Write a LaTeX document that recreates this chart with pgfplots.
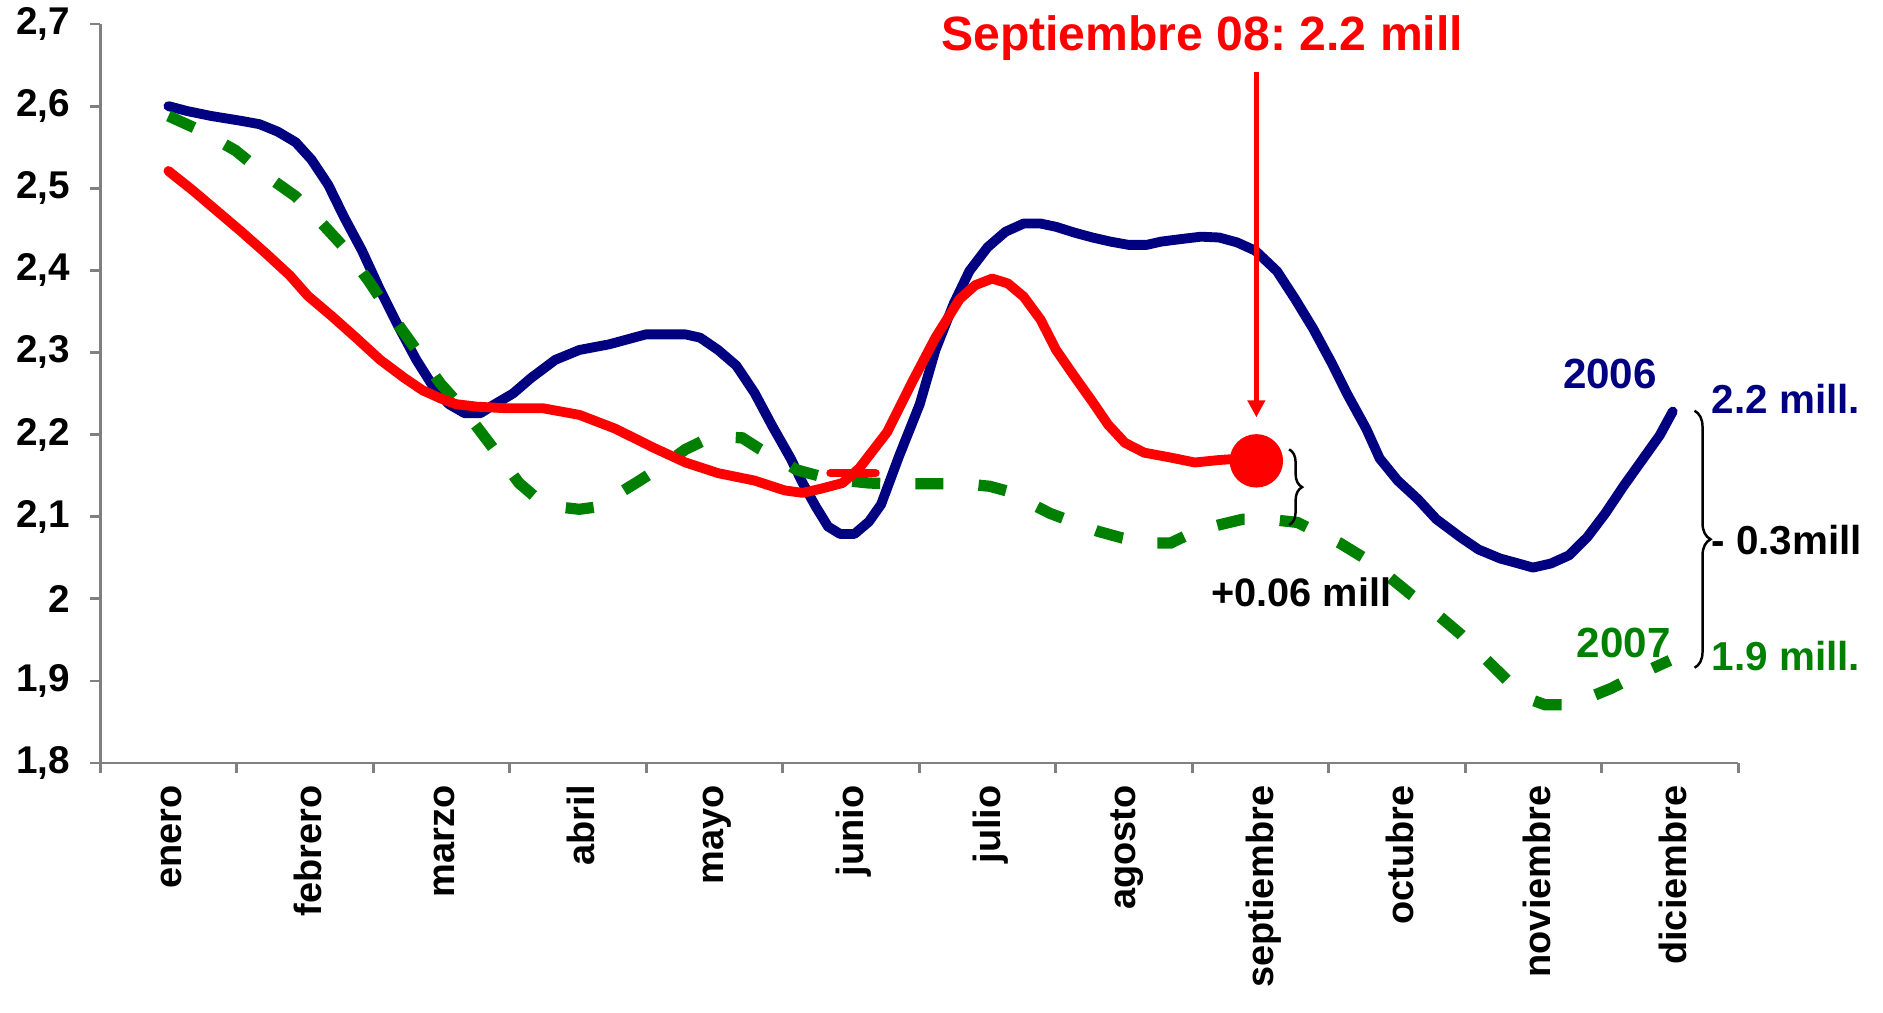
\documentclass[border=0pt]{standalone}
\usepackage{fontspec}
\setmainfont{Liberation Sans}
\usepackage{pgfplots}
\pgfplotsset{compat=1.18}
\usetikzlibrary{decorations.pathreplacing,arrows.meta}
\definecolor{azul}{RGB}{0,0,128}
\definecolor{verde}{RGB}{0,128,0}
\definecolor{rojo}{RGB}{255,0,0}
\definecolor{eje}{RGB}{128,128,128}

\begin{document}
\frenchspacing
\begin{tikzpicture}
 \useasboundingbox (-10.02mm,-24.9mm) rectangle (178.28mm,76.3mm);
 \begin{axis}[
  at={(0,0)}, anchor=south west,
  scale only axis,
  width=163.8mm, height=73.9mm,
  xmin=-0.5, xmax=11.5,
  ymin=1.8, ymax=2.7,
  clip=false,
  axis x line=bottom, axis y line=left,
  axis line style={eje, line width=0.8pt, -},
  every tick/.style={eje, line width=0.8pt},
  tick align=outside,
  xtick={0,...,11},
  major x tick style={draw=none},
  minor xtick={-0.5,0.5,...,11.5},
  minor tick length=1mm,
  major tick length=1mm,
  xticklabels={enero,febrero,marzo,abril,mayo,junio,julio,agosto,septiembre,octubre,noviembre,diciembre},
  xticklabel style={rotate=90, anchor=east, font=\fontsize{10.8}{12}\selectfont\bfseries, yshift=-0.3mm},
  ytick={1.8,1.9,...,2.75},
  yticklabel style={font=\fontsize{11}{12}\selectfont\bfseries, xshift=-0.8mm},
  /pgf/number format/assume math mode=true,
  /pgf/number format/use comma,
  /pgf/number format/precision=1,
 ]
  % 2006
  \addplot[azul, line width=2.8pt, line join=round, line cap=round] coordinates {
   (0.00,2.600) (0.137,2.594) (0.313,2.588) (0.535,2.582) (0.667,2.578)
   (0.800,2.569) (0.932,2.556) (1.047,2.535) (1.171,2.504) (1.286,2.465)
   (1.418,2.424) (1.551,2.376) (1.684,2.332) (1.816,2.291) (1.949,2.256)
   (2.055,2.237) (2.170,2.226) (2.285,2.226) (2.391,2.237) (2.524,2.250)
   (2.657,2.269) (2.834,2.291) (3.010,2.303) (3.231,2.310) (3.364,2.316)
   (3.497,2.322) (3.629,2.322) (3.788,2.322) (3.895,2.318) (4.027,2.303)
   (4.160,2.284) (4.293,2.251) (4.425,2.210) (4.558,2.171) (4.646,2.141)
   (4.743,2.112) (4.832,2.088) (4.920,2.079) (5.026,2.079) (5.132,2.094)
   (5.221,2.115) (5.353,2.174) (5.504,2.237) (5.619,2.303) (5.752,2.359)
   (5.867,2.399) (6.000,2.428) (6.132,2.447) (6.265,2.457) (6.389,2.457)
   (6.503,2.453) (6.636,2.446) (6.769,2.440) (6.901,2.435) (7.034,2.431)
   (7.166,2.431) (7.272,2.435) (7.414,2.438) (7.564,2.441) (7.697,2.440)
   (7.829,2.434) (7.962,2.424) (8.121,2.399) (8.254,2.365) (8.386,2.329)
   (8.519,2.288) (8.643,2.247) (8.775,2.207) (8.873,2.171) (9.005,2.144)
   (9.155,2.121) (9.288,2.097) (9.465,2.075) (9.598,2.060) (9.757,2.049)
   (9.890,2.043) (9.996,2.038) (10.128,2.043) (10.261,2.053) (10.394,2.075)
   (10.526,2.104) (10.659,2.137) (10.792,2.168) (10.925,2.199) (11.02,2.228)
  };
  % 2007
  \addplot[verde, line width=3.2pt, dash pattern=on 8pt off 10pt] coordinates {
   (0.00,2.588) (0.225,2.571) (0.491,2.546) (0.712,2.516) (0.932,2.490)
   (1.109,2.460) (1.286,2.428) (1.463,2.388) (1.640,2.344) (1.816,2.303)
   (1.993,2.262) (2.170,2.229) (2.303,2.200) (2.435,2.171) (2.568,2.141)
   (2.701,2.122) (2.851,2.112) (3.010,2.109) (3.143,2.112) (3.276,2.126)
   (3.453,2.144) (3.629,2.163) (3.788,2.182) (3.938,2.194) (4.071,2.197)
   (4.204,2.196) (4.336,2.182) (4.469,2.171) (4.602,2.157) (4.779,2.149)
   (4.956,2.144) (5.132,2.141) (5.309,2.140) (5.486,2.140) (5.663,2.140)
   (5.840,2.140) (6.017,2.137) (6.150,2.131) (6.282,2.119) (6.459,2.104)
   (6.636,2.093) (6.813,2.082) (6.989,2.074) (7.166,2.068) (7.343,2.068)
   (7.519,2.082) (7.696,2.090) (7.873,2.097) (8.050,2.097) (8.271,2.093)
   (8.404,2.082) (8.580,2.068) (8.757,2.050) (8.934,2.028) (9.111,2.004)
   (9.288,1.982) (9.465,1.957) (9.642,1.928) (9.818,1.899) (9.951,1.879)
   (10.084,1.871) (10.216,1.871) (10.393,1.879) (10.570,1.891) (10.747,1.906)
   (11.00,1.925)
  };
  % 2008
  \addplot[rojo, line width=2.8pt, line join=round, line cap=round] coordinates {
   (0.00,2.521) (0.181,2.497) (0.358,2.472) (0.535,2.447) (0.712,2.421)
   (0.888,2.394) (1.021,2.369) (1.198,2.344) (1.374,2.318) (1.551,2.291)
   (1.728,2.269) (1.861,2.254) (1.994,2.244) (2.108,2.237) (2.259,2.234)
   (2.480,2.232) (2.745,2.232) (3.010,2.224) (3.276,2.207) (3.541,2.185)
   (3.788,2.166) (4.027,2.153) (4.293,2.144) (4.514,2.132) (4.646,2.129)
   (4.779,2.134) (4.938,2.141) (5.061,2.159) (5.265,2.203) (5.442,2.262)
   (5.619,2.318) (5.796,2.365) (5.911,2.382) (6.035,2.390) (6.150,2.384)
   (6.265,2.368) (6.389,2.340) (6.503,2.303) (6.636,2.271) (6.769,2.240)
   (6.884,2.212) (7.007,2.190) (7.148,2.178) (7.342,2.172) (7.519,2.166)
   (7.697,2.169) (7.874,2.171) (7.97,2.168)
  };
  \addplot[rojo, line width=2.4pt, line cap=round] coordinates {(4.85,2.153) (5.18,2.153)};
  \addplot[only marks, mark=*, mark size=2.6mm, color=rojo] coordinates {(7.97,2.168)};

  % anotaciones
  \node[rojo, anchor=base, font=\fontsize{13.7}{16}\selectfont\bfseries] at (axis cs:7.573,2.668) {Septiembre 08: 2.2 mill};
  \draw[rojo, line width=1.3pt, -{Triangle[length=1.7mm,width=1.7mm]}] (axis cs:7.97,2.641) -- (axis cs:7.97,2.221);
  \draw[decorate, decoration={brace, amplitude=1.3mm}, line width=0.7pt] (axis cs:8.21,2.182) -- (axis cs:8.21,2.090);
  \node[anchor=base, font=\fontsize{11.3}{13}\selectfont\bfseries] at (axis cs:8.30,1.991) {+0.06 mill};
  \node[azul, anchor=base, font=\fontsize{12}{14}\selectfont\bfseries] at (axis cs:10.56,2.256) {2006};
  \node[verde, anchor=base, font=\fontsize{12}{14}\selectfont\bfseries] at (axis cs:10.66,1.928) {2007};
  \node[azul, anchor=base, font=\fontsize{11.5}{14}\selectfont\bfseries] at (axis cs:11.85,2.226) {2.2 mill.};
  \node[verde, anchor=base, font=\fontsize{11.5}{14}\selectfont\bfseries] at (axis cs:11.85,1.913) {1.9 mill.};
  \draw[decorate, decoration={brace, amplitude=1.6mm}, line width=0.7pt] (axis cs:11.18,2.229) -- (axis cs:11.18,1.916);
  \node[anchor=base west, font=\fontsize{11.5}{14}\selectfont\bfseries, inner sep=0pt] at (axis cs:11.30,2.054) {- 0.3mill};
 \end{axis}
\end{tikzpicture}
\end{document}
